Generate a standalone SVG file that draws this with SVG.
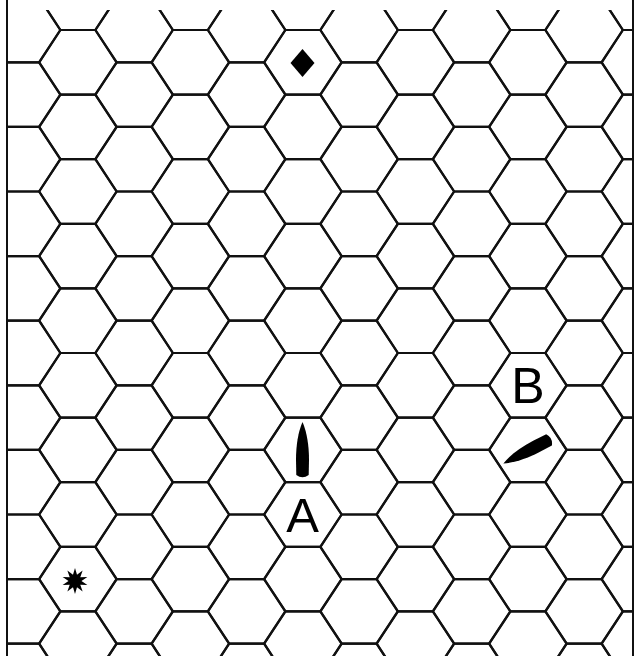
<svg xmlns="http://www.w3.org/2000/svg" xmlns:xlink="http://www.w3.org/1999/xlink" width="638" height="656" viewBox="0 0 638 656">
<style>
.hex{fill:none;stroke:#111;stroke-width:2.2;stroke-linejoin:round}
.border{stroke:#111;stroke-width:2}
.mark{fill:#000}
.lbl{font-family:"Liberation Sans",Arial,sans-serif;fill:#000;text-anchor:middle}
</style>
<defs>
<polygon id="hx" class="hex" points="-38.75,0 -17.5,-32.3 17.5,-32.3 38.75,0 17.5,32.3 -17.5,32.3"/>
<g id="col">
<use xlink:href="#hx" y="30"/>
<use xlink:href="#hx" y="94.6"/>
<use xlink:href="#hx" y="159.2"/>
<use xlink:href="#hx" y="223.8"/>
<use xlink:href="#hx" y="288.4"/>
<use xlink:href="#hx" y="353"/>
<use xlink:href="#hx" y="417.6"/>
<use xlink:href="#hx" y="482.2"/>
<use xlink:href="#hx" y="546.8"/>
<use xlink:href="#hx" y="611.4"/>
<use xlink:href="#hx" y="676"/>
</g>
<clipPath id="clip"><rect x="7" y="10" width="626" height="646"/></clipPath>
<path id="bullet" d="M0,-28 C4.5,-18 6.5,-4 6.5,10 L6.2,25 Q0,29.5 -6.2,25 L-6.5,10 C-6.5,-4 -4.5,-18 0,-28 Z"/>
</defs>
<rect width="638" height="656" fill="#fff"/>
<g id="grid" clip-path="url(#clip)">
<use xlink:href="#col" x="21.75"/>
<use xlink:href="#col" x="134.25"/>
<use xlink:href="#col" x="246.75"/>
<use xlink:href="#col" x="359.25"/>
<use xlink:href="#col" x="471.75"/>
<use xlink:href="#col" x="584.25"/>
<use xlink:href="#col" x="77.75" y="-32.3"/>
<use xlink:href="#col" x="190.25" y="-32.3"/>
<use xlink:href="#col" x="302.75" y="-32.3"/>
<use xlink:href="#col" x="415.25" y="-32.3"/>
<use xlink:href="#col" x="527.75" y="-32.3"/>
<use xlink:href="#col" x="640.25" y="-32.3"/>
</g>
<g id="frame">
<line class="border" x1="7" y1="0" x2="7" y2="656"/>
<line class="border" x1="633" y1="0" x2="633" y2="656"/>
</g>
<g id="diamond">
<polygon class="mark" points="302.5,49 314.5,63 302.5,77 290.5,63"/>
</g>
<g id="star" transform="translate(75,581)">
<polygon class="mark" points="0,-13 2.009,-6.182 7.641,-10.517 5.259,-3.821 12.364,-4.017 6.5,0 12.364,4.017 5.259,3.821 7.641,10.517 2.009,6.182 0,13 -2.009,6.182 -7.641,10.517 -5.259,3.821 -12.364,4.017 -6.5,0 -12.364,-4.017 -5.259,-3.821 -7.641,-10.517 -2.009,-6.182"/>
</g>
<g id="unitA">
<use xlink:href="#bullet" class="mark" transform="translate(302.5,450)"/>
<text class="lbl" x="302.5" y="532" font-size="49">A</text>
</g>
<g id="unitB">
<use xlink:href="#bullet" class="mark" transform="translate(527.5,451) rotate(-117.3) scale(1,0.97)"/>
<text class="lbl" x="528" y="403" font-size="50">B</text>
</g>
</svg>
